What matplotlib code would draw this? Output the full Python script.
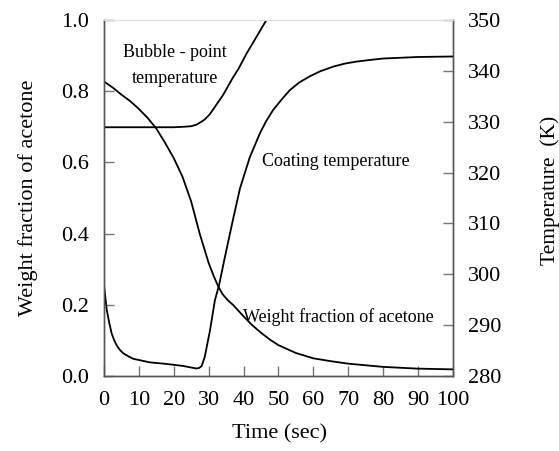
import matplotlib
matplotlib.use("Agg")
import matplotlib.pyplot as plt

plt.rcParams['font.family'] = ['Liberation Serif', 'DejaVu Serif']

# weight fraction of acetone (left axis)
t_wf = [0, 2.5, 5, 7.5, 10, 12.5, 15, 17.5, 20, 22.5, 25, 27.5, 30, 31.5,
        32.8, 34, 35.5, 37.1, 40, 42.5, 45, 47.5, 50, 55, 60, 65, 70, 80,
        90, 100]
wf = [0.827, 0.810, 0.790, 0.772, 0.750, 0.725, 0.695, 0.655, 0.612, 0.560,
      0.490, 0.398, 0.318, 0.280, 0.251, 0.230, 0.213, 0.199, 0.168, 0.143,
      0.122, 0.103, 0.087, 0.065, 0.050, 0.042, 0.035, 0.026, 0.021, 0.019]

# bubble-point temperature, K (right axis)
t_bp = [0, 10, 20, 23, 25, 26.5, 27.5, 28.2, 29, 30.4, 32.3, 34.2, 37, 38.5,
        40.9, 43.5, 46.6]
bp = [328.9, 328.9, 328.9, 329.0, 329.1, 329.4, 329.8, 330.1, 330.5, 331.5,
      333.4, 335.3, 338.7, 340.3, 343.4, 346.4, 350.0]

# coating temperature, K (right axis)
t_ct = [0, 0.8, 1.5, 2.2, 2.9, 3.6, 4.5, 5.5, 7, 8.4, 13.2, 17.9, 22.7, 26.5,
        27.3, 28, 28.9, 30.4, 31.8, 33, 34.7, 37, 39, 41.8, 44.7, 46.5, 48.5,
        51, 53.3, 56, 59, 62, 65.7, 69, 72.4, 76, 80, 90, 100]
ct = [297.9, 293.0, 290.5, 288.4, 287.1, 286.1, 285.2, 284.5, 283.9, 283.4,
      282.7, 282.4, 282.0, 281.5, 281.6, 282.0, 283.8, 289.0, 294.9, 297.9,
      303.5, 310.8, 316.9, 323.0, 327.7, 330.1, 332.3, 334.4, 336.2, 337.7,
      338.9, 339.9, 340.8, 341.4, 341.8, 342.1, 342.4, 342.7, 342.8]

x_ticks = [0, 10, 20, 30, 40, 50, 60, 70, 80, 90, 100]
wf_ticks = [0.0, 0.2, 0.4, 0.6, 0.8, 1.0]
temp_ticks = [280, 290, 300, 310, 320, 330, 340, 350]

fig = plt.figure(figsize=(5.59, 4.51), dpi=100)
ax = fig.add_axes([0.186, 0.166, 0.624, 0.790])
ax2 = ax.twinx()

ax.plot(t_wf, wf, color='black', lw=1.3)
ax2.plot(t_bp, bp, color='black', lw=1.3)
ax2.plot(t_ct, ct, color='black', lw=1.3)

ax.set_xlim(0, 100)
ax.set_ylim(0, 1.0)
ax2.set_ylim(280, 350)

ax.set_xticks(x_ticks)
ax.set_yticks(wf_ticks)
ax.set_yticklabels([f"{v:.1f}" for v in wf_ticks])
ax2.set_yticks(temp_ticks)

ax.tick_params(axis='x', direction='in', length=7, width=1, color='#777777',
               labelsize=16, pad=11)
ax.tick_params(axis='y', direction='in', length=7, width=1, color='#777777',
               labelsize=16, pad=11)
ax2.tick_params(axis='y', direction='in', length=7, width=1, color='#777777',
                labelsize=16, pad=11)

for a in (ax, ax2):
    for side in ('left', 'right', 'bottom'):
        a.spines[side].set_color('#555555')
        a.spines[side].set_linewidth(1.0)
    a.spines['top'].set_color('#dddddd')
    a.spines['top'].set_linewidth(0.8)

ax.set_xlabel('Time (sec)', fontsize=16)
ax.xaxis.set_label_coords(0.504, -0.135)
ax.set_ylabel('Weight fraction of acetone', fontsize=16)
ax.yaxis.set_label_coords(-0.19, 0.5)
ax2.set_ylabel('Temperature  (K)', fontsize=15.5)
ax2.yaxis.set_label_coords(1.25, 0.52)

ax.text(20.3, 0.872, 'Bubble - point\ntemperature', fontsize=13,
        ha='center', va='center', linespacing=1.75)
ax.text(45.3, 0.603, 'Coating temperature', fontsize=13, ha='left',
        va='center')
ax.text(39.8, 0.166, 'Weight fraction of acetone', fontsize=13, ha='left',
        va='center')

fig.savefig('out.png', dpi=100)
